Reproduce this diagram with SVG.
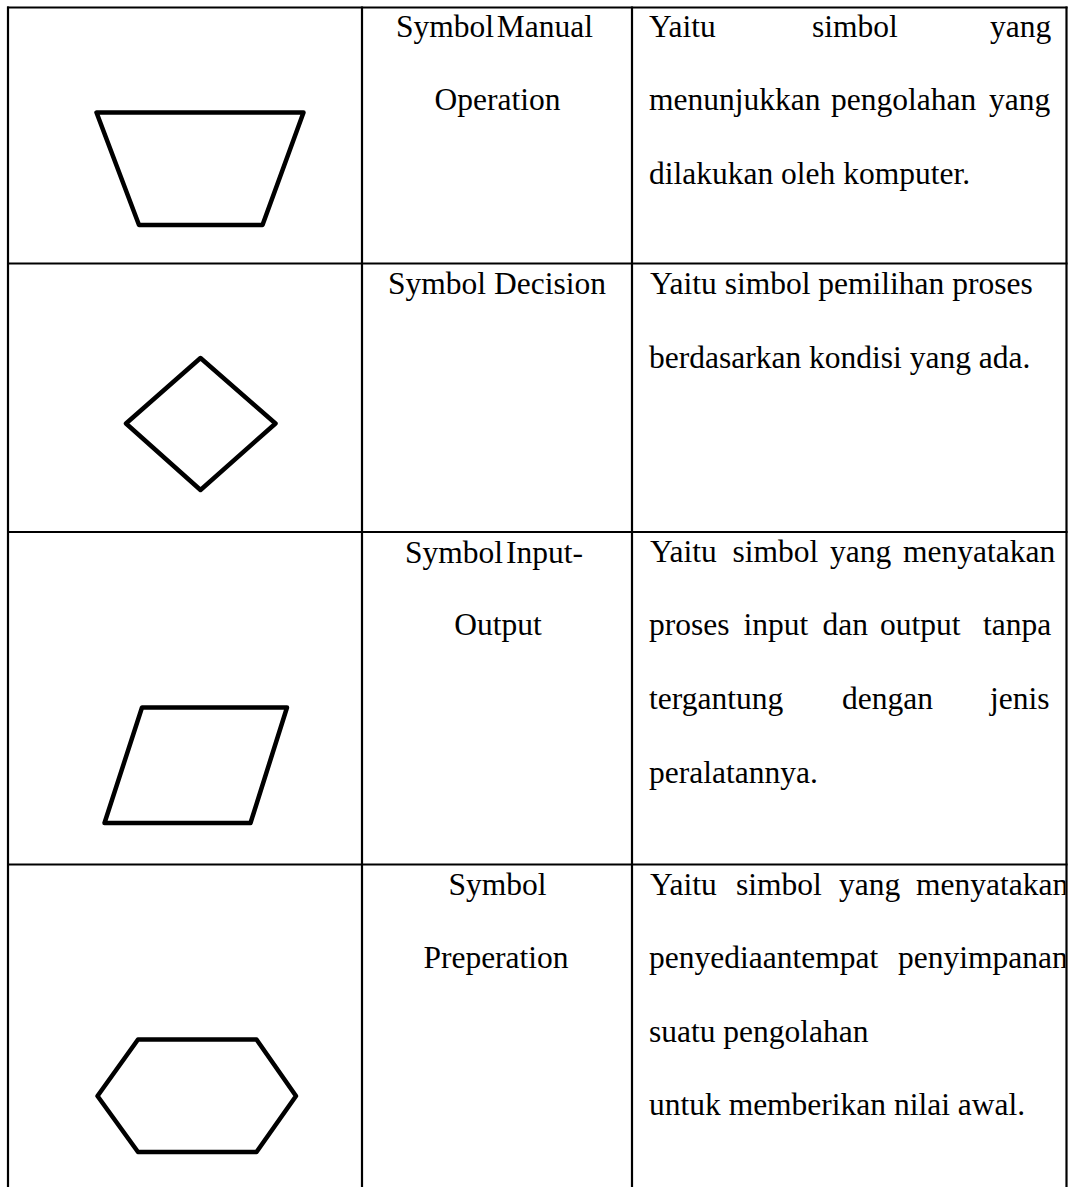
<svg xmlns="http://www.w3.org/2000/svg" width="1073" height="1187" viewBox="0 0 1073 1187">
<style>
  .grid { stroke: #000; stroke-width: 2.2; fill: none; }
  .shape { stroke: #000; stroke-width: 4.5; fill: none; stroke-linejoin: round; }
  text { font-family: "Liberation Serif", "Times New Roman", serif; font-size: 31.5px; fill: #000; }
  .c { text-anchor: middle; }
</style>
<defs>
  <clipPath id="col3clip"><rect x="632" y="0" width="433.5" height="1187"/></clipPath>
</defs>
<rect x="0" y="0" width="1073" height="1187" fill="#fff"/>

<g id="table-grid" class="grid">
  <line x1="7" y1="7.5" x2="1067.5" y2="7.5"/>
  <line x1="7" y1="263.5" x2="1067.5" y2="263.5"/>
  <line x1="7" y1="532" x2="1067.5" y2="532"/>
  <line x1="7" y1="864.5" x2="1067.5" y2="864.5"/>
  <line x1="8" y1="6.5" x2="8" y2="1187"/>
  <line x1="362" y1="6.5" x2="362" y2="1187"/>
  <line x1="632" y1="6.5" x2="632" y2="1187"/>
  <line x1="1066.5" y1="6.5" x2="1066.5" y2="1187"/>
</g>

<g id="row-manual-operation">
  <polygon class="shape" points="96.5,112.5 303.5,112.5 262.5,225 139,225"/>
  <text class="c" x="494.5" y="36.5" word-spacing="-5">Symbol Manual</text>
  <text class="c" x="497.5" y="109.5">Operation</text>
  <g clip-path="url(#col3clip)">
    <text y="37"><tspan x="649">Yaitu</tspan><tspan x="812">simbol</tspan><tspan x="990">yang</tspan></text>
    <text y="110"><tspan x="649">menunjukkan</tspan><tspan x="831">pengolahan</tspan><tspan x="989">yang</tspan></text>
    <text x="649" y="184">dilakukan oleh komputer.</text>
  </g>
</g>

<g id="row-decision">
  <polygon class="shape" points="200.5,358 275.5,423.5 200.5,490 126,423.5"/>
  <text class="c" x="497" y="294">Symbol Decision</text>
  <text x="650" y="294">Yaitu simbol pemilihan proses</text>
  <text x="649" y="367.5">berdasarkan kondisi yang ada.</text>
</g>

<g id="row-input-output">
  <polygon class="shape" points="142,707.5 287,707.5 250.5,823 104.5,823"/>
  <text class="c" x="494" y="563" word-spacing="-5">Symbol Input-</text>
  <text class="c" x="498" y="635">Output</text>
  <g clip-path="url(#col3clip)">
    <text y="562"><tspan x="650">Yaitu</tspan><tspan x="732.5">simbol</tspan><tspan x="830">yang</tspan><tspan x="903">menyatakan</tspan></text>
    <text y="635"><tspan x="649">proses</tspan><tspan x="743.5">input</tspan><tspan x="822.5">dan</tspan><tspan x="880">output</tspan><tspan x="983">tanpa</tspan></text>
    <text y="708.5"><tspan x="649">tergantung</tspan><tspan x="842">dengan</tspan><tspan x="990">jenis</tspan></text>
    <text x="649" y="782.5">peralatannya.</text>
  </g>
</g>

<g id="row-preperation">
  <polygon class="shape" points="138,1039.5 256.5,1039.5 296,1096 256.5,1152 138,1152 97.5,1096"/>
  <text class="c" x="497.5" y="895">Symbol</text>
  <text class="c" x="496" y="968">Preperation</text>
  <g clip-path="url(#col3clip)">
    <text y="895"><tspan x="650">Yaitu</tspan><tspan x="736">simbol</tspan><tspan x="839">yang</tspan><tspan x="916">menyatakan</tspan></text>
    <text y="968"><tspan x="649">penyediaantempat</tspan><tspan x="898">penyimpanan</tspan></text>
    <text x="649" y="1041.5">suatu pengolahan</text>
    <text x="649" y="1115">untuk memberikan nilai awal.</text>
  </g>
</g>
</svg>
